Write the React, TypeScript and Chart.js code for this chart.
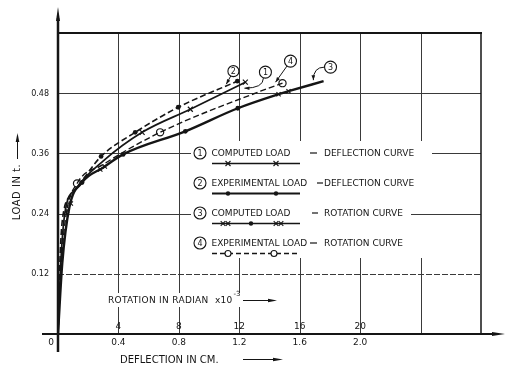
import React, { useEffect, useRef } from 'react';
import { Chart, registerables } from 'chart.js';

Chart.register(...registerables);

// ---------- data ----------
// (1) computed load - deflection curve (solid, x markers)
const c1X = [0, 0.018, 0.045, 0.12, 0.3, 0.557, 0.876, 1.24];
const c1Y = [0, 0.14, 0.24, 0.29, 0.345, 0.402, 0.448, 0.502];
const c1MarkX = [0.557, 0.876, 1.24];
const c1MarkY = [0.402, 0.448, 0.502];

// (2) experimental load - deflection curve (dashed, dots)
const c2X = [0, 0.012, 0.03, 0.093, 0.18, 0.285, 0.511, 0.796, 1.187];
const c2Y = [0, 0.14, 0.23, 0.278, 0.314, 0.354, 0.402, 0.452, 0.504];
const c2MarkX = [0.285, 0.511, 0.796, 1.187];
const c2MarkY = [0.354, 0.402, 0.452, 0.504];

// (3) computed load - rotation curve (solid thick, xx + dots)
const c3X = [0, 0.028, 0.075, 0.159, 0.3, 0.431, 0.843, 1.19, 1.46, 1.526, 1.758];
const c3Y = [0, 0.14, 0.252, 0.302, 0.332, 0.358, 0.404, 0.45, 0.478, 0.484, 0.504];
const c3CrossX = [0.06, 0.085, 0.28, 0.31, 1.46, 1.526];
const c3CrossY = [0.246, 0.26, 0.328, 0.334, 0.478, 0.484];
const c3DotX = [0.159, 0.431, 0.843, 1.19];
const c3DotY = [0.302, 0.358, 0.404, 0.45];

// (4) experimental load - rotation curve (dashed, open circles)
const c4X = [0, 0.022, 0.055, 0.126, 0.3, 0.676, 1.34, 1.486];
const c4Y = [0, 0.14, 0.24, 0.3, 0.338, 0.402, 0.484, 0.5];
const c4MarkX = [0.126, 0.676, 1.486];
const c4MarkY = [0.3, 0.402, 0.5];

// axes
const gridX = [0.4, 0.8, 1.2, 1.6, 2.0, 2.4];
const gridY = [0.12, 0.24, 0.36, 0.48];
const xTickVals = [0.4, 0.8, 1.2, 1.6, 2.0];
const xTickLabels = ['0.4', '0.8', '1.2', '1.6', '2.0'];
const rotTickLabels = ['4', '8', '12', '16', '20'];
const yTickVals = [0.12, 0.24, 0.36, 0.48];
const yTickLabels = ['0.12', '0.24', '0.36', '0.48'];

// legend
const legendNums = ['1', '2', '3', '4'];
const legendLeft = ['COMPUTED LOAD', 'EXPERIMENTAL LOAD', 'COMPUTED LOAD', 'EXPERIMENTAL LOAD'];
const legendRight = ['DEFLECTION CURVE', 'DEFLECTION CURVE', 'ROTATION CURVE', 'ROTATION CURVE'];

// callouts on the chart
const calloutNums = ['2', '1', '4', '3'];
const calloutAtX = [1.161, 1.373, 1.539, 1.804];
const calloutAtY = [0.524, 0.522, 0.544, 0.532];
const calloutToX = [1.114, 1.234, 1.44, 1.69];
const calloutToY = [0.498, 0.49, 0.502, 0.506];

const xTitle = 'DEFLECTION IN CM.';
const yTitle = 'LOAD IN t.';
const rotTitle = 'ROTATION IN RADIAN  x10';

const pts = (xs: number[], ys: number[]) => xs.map((x, i) => ({ x, y: ys[i] }));

const INK = '#151515';
const FONT = "'DejaVu Sans', sans-serif";

function tri(ctx: CanvasRenderingContext2D, tx: number, ty: number, fx: number, fy: number, len: number, half: number) {
  const dx = tx - fx, dy = ty - fy;
  const d = Math.hypot(dx, dy) || 1;
  const ux = dx / d, uy = dy / d;
  const bx = tx - ux * len, by = ty - uy * len;
  ctx.beginPath();
  ctx.moveTo(tx, ty);
  ctx.lineTo(bx - uy * half, by + ux * half);
  ctx.lineTo(bx + uy * half, by - ux * half);
  ctx.closePath();
  ctx.fill();
}

function circNum(ctx: CanvasRenderingContext2D, x: number, y: number, r: number, t: string) {
  ctx.save();
  ctx.fillStyle = '#fff';
  ctx.strokeStyle = INK;
  ctx.lineWidth = 1.1;
  ctx.beginPath();
  ctx.arc(x, y, r, 0, Math.PI * 2);
  ctx.fill();
  ctx.stroke();
  ctx.fillStyle = INK;
  ctx.font = `8px ${FONT}`;
  ctx.textAlign = 'center';
  ctx.textBaseline = 'middle';
  ctx.fillText(t, x, y + 0.5);
  ctx.restore();
}

function drawX(ctx: CanvasRenderingContext2D, x: number, y: number, r: number) {
  ctx.beginPath();
  ctx.moveTo(x - r, y - r); ctx.lineTo(x + r, y + r);
  ctx.moveTo(x - r, y + r); ctx.lineTo(x + r, y - r);
  ctx.stroke();
}

const decor = {
  id: 'decor',
  beforeDraw(chart: any) {
    const ctx = chart.ctx as CanvasRenderingContext2D;
    ctx.save();
    ctx.fillStyle = '#fff';
    ctx.fillRect(0, 0, chart.width, chart.height);
    ctx.restore();
  },
  beforeDatasetsDraw(chart: any) {
    const ctx = chart.ctx as CanvasRenderingContext2D;
    const xs = chart.scales.x, ys = chart.scales.y;
    const { left, right, top, bottom } = chart.chartArea;
    ctx.save();
    // grid
    ctx.strokeStyle = '#3a3a3a';
    ctx.lineWidth = 1;
    gridX.forEach((v) => {
      const p = Math.round(xs.getPixelForValue(v)) + 0.5;
      ctx.beginPath(); ctx.moveTo(p, top); ctx.lineTo(p, bottom); ctx.stroke();
    });
    gridY.forEach((v) => {
      const p = Math.round(ys.getPixelForValue(v)) + 0.5;
      ctx.setLineDash(v === 0.12 ? [6, 2] : []);
      ctx.beginPath(); ctx.moveTo(left, p); ctx.lineTo(right, p); ctx.stroke();
    });
    ctx.setLineDash([]);
    // frame top & right
    ctx.strokeStyle = INK;
    ctx.lineWidth = 2;
    ctx.beginPath(); ctx.moveTo(left, top); ctx.lineTo(right + 1, top); ctx.stroke();
    ctx.lineWidth = 1.5;
    ctx.beginPath(); ctx.moveTo(right, top); ctx.lineTo(right, bottom); ctx.stroke();

    // legend block
    ctx.fillStyle = '#fff';
    ctx.fillRect(191, 141, 241, 117);
    // restore 0.24 line to the right of legend
    ctx.strokeStyle = '#3a3a3a';
    ctx.lineWidth = 1;
    const y24 = Math.round(ys.getPixelForValue(0.24)) + 0.5;
    ctx.beginPath(); ctx.moveTo(411, y24); ctx.lineTo(432, y24); ctx.stroke();

    const rowY = [153, 183, 213, 243];
    const dashX = [[310, 317], [317, 323], [312, 318], [310, 317]];
    ctx.fillStyle = INK;
    ctx.font = `9px ${FONT}`;
    ctx.textBaseline = 'middle';
    ctx.textAlign = 'left';
    legendNums.forEach((n, i) => {
      const y = rowY[i];
      circNum(ctx, 200, y, 6, n);
      ctx.fillStyle = INK;
      ctx.font = `9px ${FONT}`;
      ctx.textAlign = 'left';
      ctx.textBaseline = 'middle';
      ctx.fillText(legendLeft[i], 211.5, y + 0.5);
      ctx.fillText(legendRight[i], 324, y + 0.5);
      ctx.strokeStyle = INK;
      ctx.lineWidth = 1.2;
      ctx.beginPath(); ctx.moveTo(dashX[i][0], y); ctx.lineTo(dashX[i][1], y); ctx.stroke();
      // sample
      const sy = y + 10.5;
      ctx.save();
      ctx.strokeStyle = INK;
      if (i === 0) {
        ctx.lineWidth = 1.4;
        ctx.beginPath(); ctx.moveTo(212, sy); ctx.lineTo(300, sy); ctx.stroke();
        ctx.lineWidth = 1.1;
        drawX(ctx, 228, sy, 2.5); drawX(ctx, 276, sy, 2.5);
      } else if (i === 1) {
        ctx.lineWidth = 2;
        ctx.beginPath(); ctx.moveTo(212, sy); ctx.lineTo(300, sy); ctx.stroke();
        ctx.fillStyle = INK;
        [228, 276].forEach((x) => { ctx.beginPath(); ctx.arc(x, sy, 2.2, 0, Math.PI * 2); ctx.fill(); });
      } else if (i === 2) {
        ctx.lineWidth = 1.4;
        ctx.beginPath(); ctx.moveTo(212, sy); ctx.lineTo(300, sy); ctx.stroke();
        ctx.lineWidth = 1.1;
        [223, 228, 276, 281].forEach((x) => drawX(ctx, x, sy, 2.3));
        ctx.fillStyle = INK;
        ctx.beginPath(); ctx.arc(251, sy, 2.2, 0, Math.PI * 2); ctx.fill();
      } else {
        ctx.lineWidth = 1.3;
        ctx.setLineDash([5, 3]);
        ctx.beginPath(); ctx.moveTo(212, sy); ctx.lineTo(300, sy); ctx.stroke();
        ctx.setLineDash([]);
        ctx.fillStyle = '#fff';
        ctx.lineWidth = 1.1;
        [228, 274].forEach((x) => { ctx.beginPath(); ctx.arc(x, sy, 3, 0, Math.PI * 2); ctx.fill(); ctx.stroke(); });
      }
      ctx.restore();
    });

    // rotation title
    ctx.font = `9px ${FONT}`;
    (ctx as any).letterSpacing = '0.3px';
    const rw = ctx.measureText(rotTitle).width;
    ctx.fillStyle = '#fff';
    ctx.fillRect(105, 293, rw + 12, 14);
    ctx.fillStyle = INK;
    ctx.textAlign = 'left';
    ctx.textBaseline = 'middle';
    ctx.fillText(rotTitle, 108, 300.5);
    (ctx as any).letterSpacing = '0px';
    ctx.font = `7px ${FONT}`;
    ctx.fillText('-3', 108 + rw + 1, 294);
    ctx.strokeStyle = INK;
    ctx.lineWidth = 1;
    ctx.beginPath(); ctx.moveTo(243, 300.5); ctx.lineTo(270, 300.5); ctx.stroke();
    tri(ctx, 277, 300.5, 243, 300.5, 9, 1.8);

    // tick labels
    ctx.font = `9px ${FONT}`;
    ctx.textAlign = 'center';
    ctx.fillStyle = INK;
    xTickVals.forEach((v, i) => {
      const p = xs.getPixelForValue(v);
      ctx.fillText(xTickLabels[i], p, 343);
      ctx.fillText(rotTickLabels[i], p, 326.5);
    });
    ctx.fillText('0', 51, 342.5);
    ctx.font = `8px ${FONT}`;
    ctx.textAlign = 'right';
    yTickVals.forEach((v, i) => {
      ctx.fillText(yTickLabels[i], 49, ys.getPixelForValue(v) + 0.5);
    });

    // x title
    ctx.font = `10px ${FONT}`;
    ctx.textAlign = 'left';
    ctx.fillText(xTitle, 120, 360.5);
    ctx.lineWidth = 1;
    ctx.beginPath(); ctx.moveTo(243, 359.5); ctx.lineTo(274, 359.5); ctx.stroke();
    tri(ctx, 283, 359.5, 243, 359.5, 10, 1.8);

    // y title
    ctx.save();
    ctx.translate(17, 192);
    ctx.rotate(-Math.PI / 2);
    (ctx as any).letterSpacing = '0.5px';
    ctx.font = `10px ${FONT}`;
    ctx.textAlign = 'center';
    ctx.fillText(yTitle, 0, 0);
    ctx.restore();
    ctx.lineWidth = 1;
    ctx.beginPath(); ctx.moveTo(17.5, 159); ctx.lineTo(17.5, 141); ctx.stroke();
    tri(ctx, 17.5, 133, 17.5, 159, 9, 1.8);
    ctx.restore();
  },
  afterDatasetsDraw(chart: any) {
    const ctx = chart.ctx as CanvasRenderingContext2D;
    const xs = chart.scales.x, ys = chart.scales.y;
    const { left, right, bottom } = chart.chartArea;
    ctx.save();
    ctx.strokeStyle = INK;
    ctx.fillStyle = INK;
    // y axis
    ctx.lineWidth = 2.5;
    ctx.beginPath(); ctx.moveTo(left, bottom + 18); ctx.lineTo(left, 18); ctx.stroke();
    tri(ctx, left, 7, left, 30, 14, 2);
    // x axis
    ctx.lineWidth = 2;
    ctx.beginPath(); ctx.moveTo(42, bottom); ctx.lineTo(494, bottom); ctx.stroke();
    tri(ctx, 505, bottom, 480, bottom, 13, 2);

    // callouts
    const modes = ['line', 'downLeft', 'line', 'leftDown'];
    calloutNums.forEach((n, i) => {
      const cx = xs.getPixelForValue(calloutAtX[i]);
      const cy = ys.getPixelForValue(calloutAtY[i]);
      const tx = xs.getPixelForValue(calloutToX[i]);
      const ty = ys.getPixelForValue(calloutToY[i]);
      const r = i === 0 ? 5.5 : 6;
      ctx.strokeStyle = INK;
      ctx.fillStyle = INK;
      ctx.lineWidth = 1;
      let sx = cx, sy = cy, kx = tx, ky = ty;
      if (modes[i] === 'line') {
        const d = Math.hypot(tx - cx, ty - cy);
        sx = cx + ((tx - cx) / d) * r; sy = cy + ((ty - cy) / d) * r;
        kx = (sx + tx) / 2; ky = (sy + ty) / 2;
      } else if (modes[i] === 'downLeft') {
        sx = cx - 2; sy = cy + r;
        kx = sx; ky = ty;
      } else {
        sx = cx - r; sy = cy;
        kx = tx; ky = sy;
      }
      ctx.beginPath();
      ctx.moveTo(sx, sy);
      ctx.quadraticCurveTo(kx, ky, tx, ty);
      ctx.stroke();
      tri(ctx, tx, ty, kx, ky, 5, 1.8);
      circNum(ctx, cx, cy, r, n);
    });
    ctx.restore();
  },
};

const lineDs = (data: any[], width: number, dash: number[]) => ({
  type: 'scatter',
  data,
  showLine: true,
  borderColor: INK,
  borderWidth: width,
  borderDash: dash,
  pointRadius: 0,
  cubicInterpolationMode: 'monotone',
  fill: false,
});

export default function App() {
  const ref = useRef<HTMLCanvasElement | null>(null);
  useEffect(() => {
    if (!ref.current) return;
    const chart = new Chart(ref.current, {
      type: 'scatter',
      data: {
        datasets: [
          lineDs(pts(c2X, c2Y), 1.6, [6, 3]) as any,
          lineDs(pts(c1X, c1Y), 1.7, []) as any,
          lineDs(pts(c4X, c4Y), 1.4, [6, 3]) as any,
          lineDs(pts(c3X, c3Y), 2.4, []) as any,
          { data: pts(c1MarkX, c1MarkY), pointStyle: 'crossRot', pointRadius: 3.5, borderColor: INK, borderWidth: 1.2 },
          { data: pts(c2MarkX, c2MarkY), pointStyle: 'circle', pointRadius: 2.4, backgroundColor: INK, borderColor: INK, borderWidth: 0 },
          { data: pts(c3CrossX, c3CrossY), pointStyle: 'crossRot', pointRadius: 3, borderColor: INK, borderWidth: 1.1 },
          { data: pts(c3DotX, c3DotY), pointStyle: 'circle', pointRadius: 2.4, backgroundColor: INK, borderColor: INK, borderWidth: 0 },
          { data: pts(c4MarkX, c4MarkY), pointStyle: 'circle', pointRadius: 3.6, backgroundColor: '#fff', borderColor: INK, borderWidth: 1.2 },
        ],
      },
      options: {
        animation: false,
        responsive: false,
        devicePixelRatio: 1,
        layout: { padding: { left: 58, right: 24, top: 33, bottom: 34 } },
        scales: {
          x: { type: 'linear', min: 0, max: 2.8, display: false },
          y: { type: 'linear', min: 0, max: 0.6, display: false },
        },
        plugins: { legend: { display: false }, tooltip: { enabled: false } },
        events: [],
      },
      plugins: [decor],
    } as any);
    return () => chart.destroy();
  }, []);
  return (
    <div style={{ position: 'absolute', left: 0, top: 0, width: 505, height: 368, background: '#fff' }}>
      <canvas ref={ref} width={505} height={368} style={{ display: 'block' }} />
    </div>
  );
}
